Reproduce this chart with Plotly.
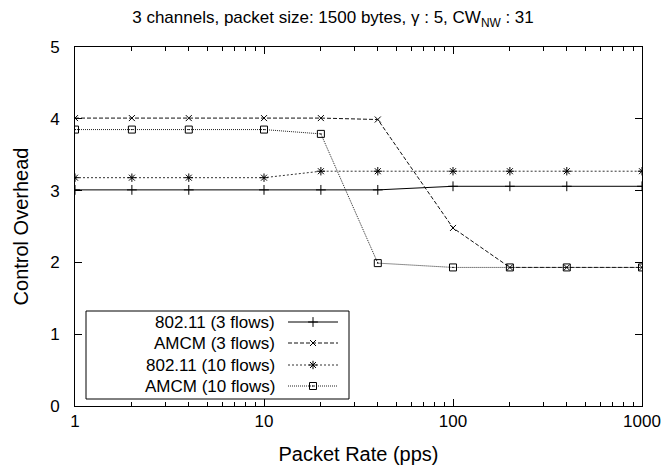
import plotly.graph_objects as go

# Packet rates (pps) on a log x axis
rates = [1, 2, 4, 10, 20, 40, 100, 200, 400, 1000]

# Control overhead per scheme
ieee_3 = [3.01, 3.01, 3.01, 3.01, 3.01, 3.01, 3.06, 3.06, 3.06, 3.06]
amcm_3 = [4.01, 4.01, 4.01, 4.01, 4.01, 3.99, 2.48, 1.93, 1.93, 1.93]
ieee_10 = [3.18, 3.18, 3.18, 3.18, 3.27, 3.27, 3.27, 3.27, 3.27, 3.27]
amcm_10 = [3.85, 3.85, 3.85, 3.85, 3.79, 1.99, 1.93, 1.93, 1.93, 1.93]

names = ["802.11 (3 flows)", "AMCM (3 flows)", "802.11 (10 flows)", "AMCM (10 flows)"]
series = [ieee_3, amcm_3, ieee_10, amcm_10]

x_ticks = [1, 10, 100, 1000]
x_minor = [m * d for d in (1, 10, 100) for m in range(2, 10)]
y_ticks = [0, 1, 2, 3, 4, 5]

styles = [
    dict(dash="solid", color="#000000", symbol="cross-thin-open", size=7),
    dict(dash="4px,2px", color="#111111", symbol="x-thin-open", size=6),
    dict(dash="2px,2px", color="#333333", symbol="asterisk-open", size=7),
    dict(dash="1px,1px", color="#222222", symbol="square-open-dot", size=7),
]

FONT = "Liberation Sans, Arial, sans-serif"
FS = 17
W, H = 666, 467
L, R, T, B = 75, 642, 47, 406

fig = go.Figure()

for name, ys, st in zip(names, series, styles):
    fig.add_trace(go.Scatter(
        x=rates, y=ys, name=name, mode="lines+markers",
        line=dict(color=st["color"], width=1, dash=st["dash"]),
        marker=dict(symbol=st["symbol"], size=st["size"], color="#000000",
                    line=dict(color="#000000", width=1)),
        showlegend=False,
    ))

# Key box (gnuplot style: label text on the left, sample on the right)
key_left, key_right, key_top, key_bottom = 86, 349, 311, 399
row_y = [322, 343, 365, 386]
sample_x0, sample_x1, text_right = 288, 338, 277

for name, st, ry in zip(names, styles, row_y):
    fig.add_trace(go.Scatter(
        x=[sample_x0, sample_x1], y=[ry, ry], mode="lines",
        line=dict(color=st["color"], width=1, dash=st["dash"]),
        xaxis="x2", yaxis="y2", showlegend=False, hoverinfo="skip",
    ))
    fig.add_trace(go.Scatter(
        x=[(sample_x0 + sample_x1) / 2], y=[ry], mode="markers",
        marker=dict(symbol=st["symbol"], size=st["size"], color="#000000",
                    line=dict(color="#000000", width=1)),
        xaxis="x2", yaxis="y2", showlegend=False, hoverinfo="skip",
    ))
    fig.add_annotation(
        x=text_right, y=ry, xref="x2", yref="y2", text=name,
        showarrow=False, xanchor="right", yanchor="middle",
        font=dict(family=FONT, size=FS, color="#000000"),
    )

fig.add_shape(type="rect", xref="x2", yref="y2",
              x0=key_left, x1=key_right, y0=key_top, y1=key_bottom,
              line=dict(color="#000000", width=1), fillcolor="rgba(0,0,0,0)")

fig.update_layout(
    width=W, height=H,
    margin=dict(l=L, r=W - R, t=T, b=H - B),
    paper_bgcolor="white", plot_bgcolor="white",
    font=dict(family=FONT, size=FS, color="#000000"),
    title=dict(
        text="3 channels, packet size: 1500 bytes, \u03b3 : 5, CW<sub>NW</sub> : 31",
        x=0.5, xref="container", xanchor="center",
        y=1 - 17 / H, yref="container", yanchor="middle",
        font=dict(family=FONT, size=FS, color="#000000"),
    ),
    xaxis=dict(
        type="log", range=[0, 3], automargin=False,
        tickvals=x_ticks, ticktext=[str(v) for v in x_ticks],
        ticks="inside", ticklen=7, tickwidth=1, tickcolor="#000000",
        minor=dict(tickvals=x_minor, ticks="inside", ticklen=4, tickwidth=1,
                   tickcolor="#000000", showgrid=False),
        showline=True, linecolor="#000000", linewidth=1, mirror="ticks",
        showgrid=False, zeroline=False,
        title=dict(text="Packet Rate (pps)", standoff=16),
    ),
    yaxis=dict(
        range=[0, 5], tickvals=y_ticks, automargin=False,
        ticks="inside", ticklen=7, tickwidth=1, tickcolor="#000000",
        showline=True, linecolor="#000000", linewidth=1, mirror="ticks",
        showgrid=False, zeroline=False, ticklabelstandoff=11,
        title=dict(text="Control Overhead", standoff=16),
    ),
    # Pixel-space overlay used for the key
    xaxis2=dict(domain=[0, 1], range=[L, R], overlaying="x", visible=False,
                fixedrange=True),
    yaxis2=dict(domain=[0, 1], range=[B, T], overlaying="y", visible=False,
                fixedrange=True),
)

fig.write_html("out.html")
